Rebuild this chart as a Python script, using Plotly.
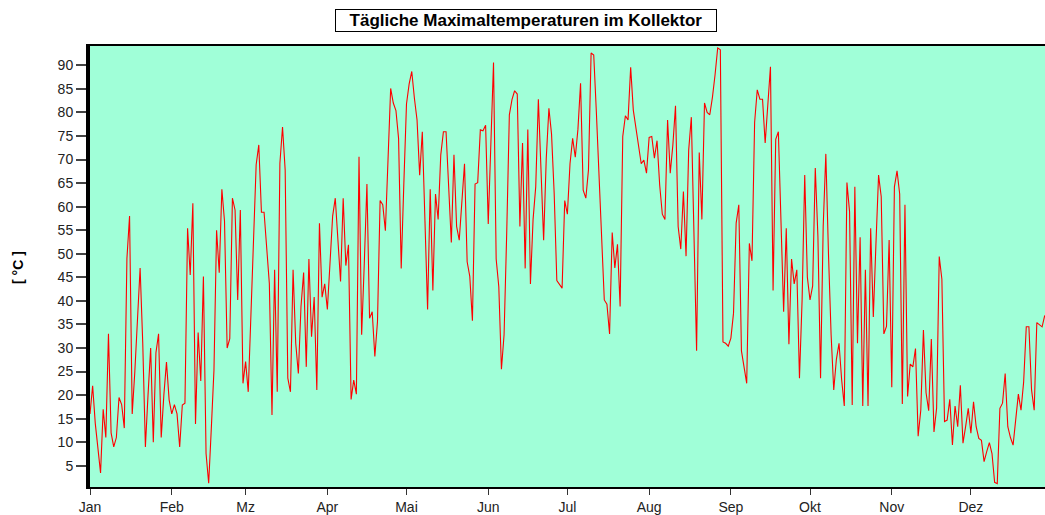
import numpy as np
import plotly.graph_objects as go

# Daily maximum collector temperatures (°C), one list per month
jan = [16, 22, 14, 8, 3.5, 17, 11, 33, 12, 9, 11, 19.5, 18, 13, 49, 58, 16, 25, 36, 47,
       31, 9, 20, 30, 10, 29, 33, 11, 20, 27, 19]
feb = [16, 18, 16, 9, 17.9, 18.3, 55.4, 45.5, 60.7, 13.9, 33.3, 23, 45.2, 7.6, 1.3, 13,
       25.3, 55, 46, 63.7, 56.9, 30, 32, 61.8, 59.3, 40.2, 59.3, 22.5]
mar = [27.1, 20.7, 38, 55, 68.9, 73.1, 58.8, 58.8, 51, 43.7, 15.8, 46.6, 20.7, 69.2, 76.9,
       67.8, 23.6, 20.7, 46.6, 31, 24.6, 38.8, 46, 26, 48.9, 32.4, 40.8, 21.1, 56.5, 40.8, 43.6]
apr = [38.2, 48, 58, 61.8, 53, 44.1, 61.8, 47.5, 51.9, 19.1, 23.2, 20.2, 70.6, 32.8, 48,
       64.8, 36.3, 37.7, 28.2, 35.6, 61.3, 60.4, 54.9, 70, 85.1, 82, 80.4, 74.5, 46.9, 65]
mai = [81.8, 86, 88.7, 83, 78.4, 66.7, 75.9, 57, 38.2, 63.7, 42.2, 62.7, 57.3, 71, 75.9,
       75.9, 64, 52.4, 71, 55.8, 52.9, 60, 69.1, 48.3, 45.2, 35.8, 64.8, 65.1, 76.3, 76.1, 77.3]
jun = [56.3, 73, 90.6, 48.9, 43, 25.5, 32.8, 54.4, 79.5, 82.7, 84.6, 83.9, 55.8, 73.5, 46.9,
       76.4, 43.6, 57.3, 64.2, 82.8, 68, 52.9, 70.3, 80.9, 75.4, 62.8, 44.3, 43.4, 42.7, 61.3]
jul = [58.4, 69.1, 74.5, 70.5, 76.4, 86.2, 63.5, 61.8, 67.8, 92.6, 92.2, 80, 66, 55, 40.2,
       39.3, 33, 54.5, 47, 52, 38.8, 74.9, 79.3, 78.4, 89.6, 80.5, 77, 73, 69.1, 69.9, 67.1]
aug = [74.7, 74.9, 70.3, 74, 64.6, 58.4, 57.3, 78.4, 67.1, 73.1, 81.4, 55.8, 51, 63.2, 49.5,
       72, 79, 55, 29.4, 71.5, 57.3, 82, 80, 79.5, 83.2, 88, 93.7, 93.3, 31.3, 31, 30.4]
sep = [32.1, 37.4, 56.5, 60.4, 29.4, 26, 22.5, 52.2, 48.5, 77.9, 84.8, 82.8, 82.8, 73.5, 82,
       89.7, 42.2, 74.3, 75.9, 56, 37.7, 55.4, 30.8, 48.9, 43.6, 46.6, 23.6, 40.2, 66.7, 45]
okt = [40.2, 43.2, 68.2, 53.6, 23.6, 55.8, 71.2, 50, 32.8, 21.1, 27.6, 31, 23.2, 17.7, 65.1,
       58.9, 17.9, 64.2, 31, 53.5, 17.7, 46.6, 17.7, 55.4, 36.6, 52.1, 66.7, 62.1, 33, 34.6, 52.9]
nov = [21.7, 64.2, 67.6, 62.7, 18.1, 60.4, 19.7, 26.6, 26, 29.9, 11.3, 16.8, 33.8, 20.5, 16.7,
       31.9, 12.2, 17.2, 49.4, 44.6, 14.4, 14.7, 19.1, 9.4, 17.7, 13.3, 22.1, 9.8, 13.3, 17.2]
dez = [11.9, 18.6, 13.3, 10.8, 10.4, 5.9, 8, 9.9, 7.6, 1.5, 1.2, 17.2, 18.3, 24.6, 13.3, 11,
       9.4, 15.4, 20.2, 16.8, 22.8, 34.5, 34.5, 21.1, 16.8, 35.4, 35, 34.5, 36.9]

month_labels = ["Jan", "Feb", "Mz", "Apr", "Mai", "Jun", "Jul", "Aug", "Sep", "Okt", "Nov", "Dez"]
month_lengths = [31, 28, 31, 30, 31, 30, 31, 31, 30, 31, 30, 31]
y_ticks = list(range(5, 95, 5))

values = jan + feb + mar + apr + mai + jun + jul + aug + sep + okt + nov + dez
days = list(range(len(values)))
month_starts = [0] + [int(v) for v in np.cumsum(month_lengths)[:-1]]

FONT = "Liberation Sans, Arial, sans-serif"

fig = go.Figure()
fig.add_trace(go.Scatter(x=days, y=values, mode="lines",
                         line=dict(color="#ff0000", width=1.1),
                         hoverinfo="skip", showlegend=False))

fig.update_layout(
    width=1045, height=515,
    margin=dict(l=90, r=0, t=46, b=28),
    paper_bgcolor="white",
    plot_bgcolor="#a0ffd8",
    font=dict(family=FONT, size=14, color="#222"),
    xaxis=dict(range=[0, 362.1], tickmode="array", tickvals=month_starts,
               ticktext=month_labels, ticks="outside", ticklen=6, tickwidth=1,
               tickcolor="#333", showline=True, linecolor="black", linewidth=2,
               mirror=True, showgrid=False, zeroline=False,
               tickfont=dict(family=FONT, size=14, color="#222")),
    yaxis=dict(range=[0.5, 94.1], tickmode="array", tickvals=y_ticks,
               ticks="outside", ticklen=10, tickwidth=2, tickcolor="#444",
               showline=True, linecolor="black", linewidth=4, mirror=False,
               showgrid=False, zeroline=False,
               tickfont=dict(family=FONT, size=14, color="#222")),
    annotations=[
        dict(text="<b>Tägliche Maximaltemperaturen im Kollektor</b>",
             xref="paper", yref="paper", x=(526 - 90) / 955, y=(487 - 20.5) / 441,
             xanchor="center", yanchor="middle", showarrow=False,
             font=dict(family=FONT, size=17, color="black"),
             bordercolor="black", borderwidth=1, borderpad=1, bgcolor="white",
             width=378, height=19),
        dict(text="<b>[ °C ]</b>", xref="paper", yref="paper",
             x=(18 - 90) / 955, y=(487 - 268) / 441, textangle=-90,
             xanchor="center", yanchor="middle", showarrow=False,
             font=dict(family=FONT, size=14, color="black")),
    ],
)

fig.write_html("out.html", config={"displayModeBar": False},
               post_script="document.body.style.margin='0';document.body.style.overflow='hidden';")
